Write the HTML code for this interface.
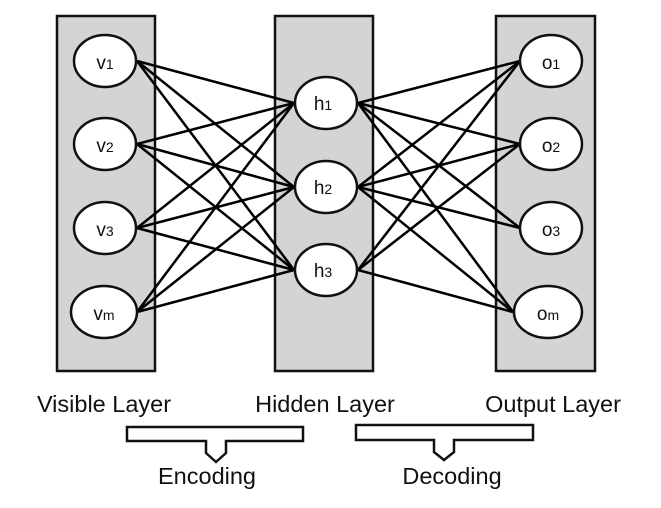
<!DOCTYPE html>
<html><head><meta charset="utf-8"><style>
html,body{margin:0;padding:0;background:#fff;width:661px;height:508px;overflow:hidden}
svg text{font-family:"Liberation Sans",sans-serif;fill:#111}
</style></head><body>
<svg width="661" height="508" viewBox="0 0 661 508" xmlns="http://www.w3.org/2000/svg">
<g fill="#d4d4d4" stroke="#111" stroke-width="2.5">
<rect x="57" y="16" width="98" height="355"/>
<rect x="275" y="16" width="98" height="355"/>
<rect x="496" y="16" width="99" height="355"/>
</g>
<g stroke="#000" stroke-width="2.5">
<line x1="137" y1="61" x2="294" y2="103"/><line x1="137" y1="61" x2="294" y2="187"/><line x1="137" y1="61" x2="294" y2="270"/>
<line x1="137" y1="144" x2="294" y2="103"/><line x1="137" y1="144" x2="294" y2="187"/><line x1="137" y1="144" x2="294" y2="270"/>
<line x1="137" y1="228" x2="294" y2="103"/><line x1="137" y1="228" x2="294" y2="187"/><line x1="137" y1="228" x2="294" y2="270"/>
<line x1="137" y1="312" x2="294" y2="103"/><line x1="137" y1="312" x2="294" y2="187"/><line x1="137" y1="312" x2="294" y2="270"/>
<line x1="358" y1="103" x2="520" y2="61"/><line x1="358" y1="103" x2="520" y2="144"/><line x1="358" y1="103" x2="520" y2="228"/><line x1="358" y1="103" x2="513" y2="312"/>
<line x1="358" y1="187" x2="520" y2="61"/><line x1="358" y1="187" x2="520" y2="144"/><line x1="358" y1="187" x2="520" y2="228"/><line x1="358" y1="187" x2="513" y2="312"/>
<line x1="358" y1="270" x2="520" y2="61"/><line x1="358" y1="270" x2="520" y2="144"/><line x1="358" y1="270" x2="513" y2="312"/>
</g>
<g fill="#fff" stroke="#111" stroke-width="2.5">
<ellipse cx="105" cy="61" rx="31" ry="26"/><ellipse cx="105" cy="144" rx="31" ry="26"/><ellipse cx="105" cy="228" rx="31" ry="26"/><ellipse cx="104" cy="312" rx="33" ry="26"/>
<ellipse cx="326" cy="103" rx="31" ry="26"/><ellipse cx="326" cy="187" rx="31" ry="26"/><ellipse cx="326" cy="270" rx="31" ry="26"/>
<ellipse cx="551" cy="61" rx="31" ry="26"/><ellipse cx="551" cy="144" rx="31" ry="26"/><ellipse cx="551" cy="228" rx="31" ry="26"/><ellipse cx="548" cy="312" rx="34" ry="26"/>
</g>
<g font-size="19" text-anchor="middle">
<text x="105" y="69">v<tspan font-size="14">1</tspan></text>
<text x="105" y="152">v<tspan font-size="14">2</tspan></text>
<text x="105" y="236">v<tspan font-size="14">3</tspan></text>
<text x="104" y="320">v<tspan font-size="14">m</tspan></text>
<text x="323" y="110">h<tspan font-size="14">1</tspan></text>
<text x="323" y="194">h<tspan font-size="14">2</tspan></text>
<text x="323" y="277">h<tspan font-size="14">3</tspan></text>
<text x="551" y="69">o<tspan font-size="14">1</tspan></text>
<text x="551" y="152">o<tspan font-size="14">2</tspan></text>
<text x="551" y="236">o<tspan font-size="14">3</tspan></text>
<text x="548" y="320">o<tspan font-size="14">m</tspan></text>
</g>
<g font-size="23.5" text-anchor="middle">
<text x="104" y="412">Visible Layer</text>
<text x="325" y="412">Hidden Layer</text>
<text x="553" y="412">Output Layer</text>
<text x="207" y="484">Encoding</text>
<text x="452" y="484">Decoding</text>
</g>
<g fill="#fff" stroke="#111" stroke-width="2.5">
<path d="M127 427 H303 V441 H226 V453 L216 462 L206 453 V441 H127 Z"/>
<path d="M356 425 H533 V440 H454 V452 L444 460 L434 452 V440 H356 Z"/>
</g>
</svg>
</body></html>
